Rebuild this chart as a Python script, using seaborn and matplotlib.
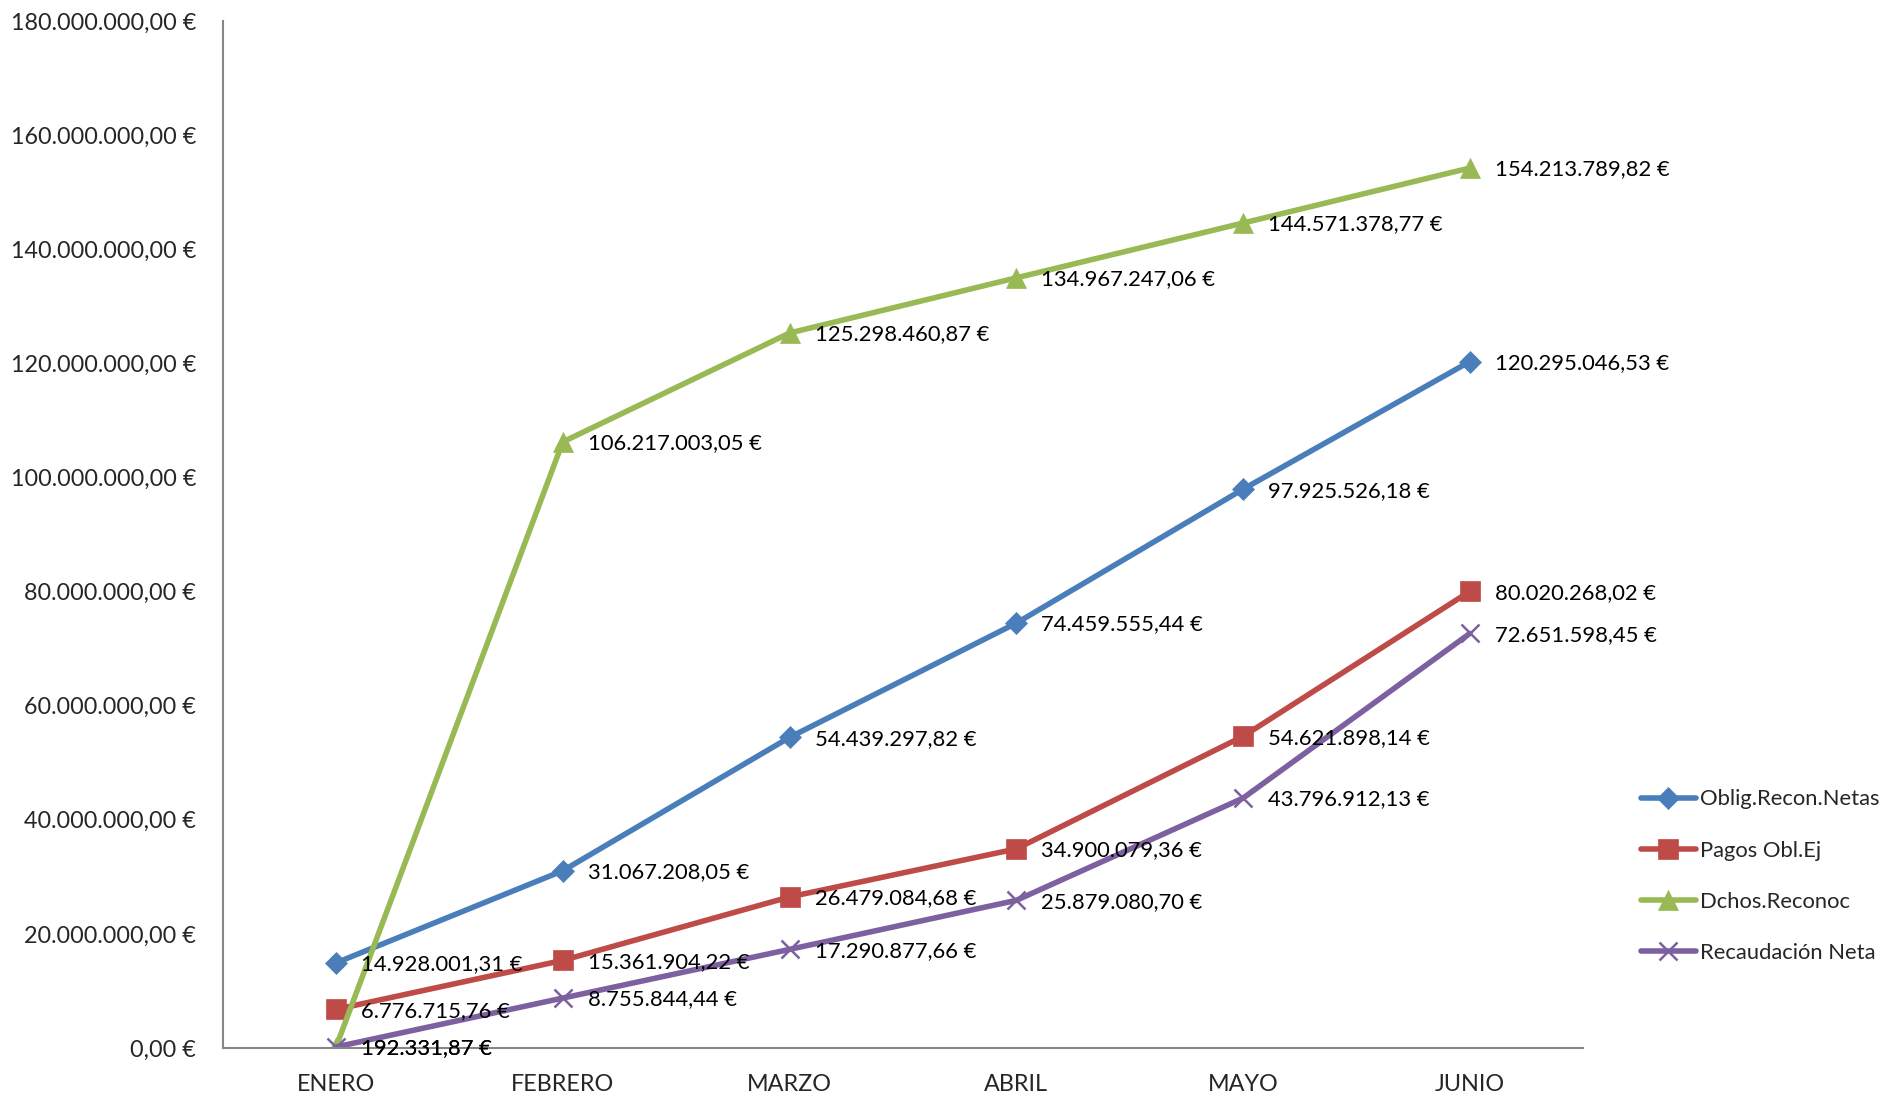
import matplotlib
matplotlib.use("Agg")
import matplotlib.pyplot as plt
import seaborn as sns
import pandas as pd
from matplotlib.lines import Line2D

months = ["ENERO", "FEBRERO", "MARZO", "ABRIL", "MAYO", "JUNIO"]
series_names = ["Oblig.Recon.Netas", "Pagos Obl.Ej", "Dchos.Reconoc", "Recaudación Neta"]
oblig = [14928001.31, 31067208.05, 54439297.82, 74459555.44, 97925526.18, 120295046.53]
pagos = [6776715.76, 15361904.22, 26479084.68, 34900079.36, 54621898.14, 80020268.02]
dchos = [192331.87, 106217003.05, 125298460.87, 134967247.06, 144571378.77, 154213789.82]
recaud = [192331.87, 8755844.44, 17290877.66, 25879080.70, 43796912.13, 72651598.45]
yticks = [0, 20e6, 40e6, 60e6, 80e6, 100e6, 120e6, 140e6, 160e6, 180e6]

colors = ["#4A7EBB", "#BE4B48", "#98B954", "#7D60A0"]
markers = ["D", "s", "^", "x"]
msizes = [11.5, 14, 14, 13]

def eur(v):
    s = f"{v:,.2f}"
    s = s.replace(",", "X").replace(".", ",").replace("X", ".")
    return s + " €"

sns.set_theme(style="white")
plt.rcParams['font.family'] = ['Lato', 'DejaVu Sans']

fig = plt.figure(figsize=(18.87, 10.98), dpi=100)
ax = fig.add_axes([0.118, 0.0455, 0.721, 0.9355])

all_vals = [oblig, pagos, dchos, recaud]
handles = []
for name, vals, c, m, ms in zip(series_names, all_vals, colors, markers, msizes):
    df = pd.DataFrame({"x": range(len(months)), "y": vals})
    mew = 1.8 if m == "x" else 0.5
    sns.lineplot(data=df, x="x", y="y", ax=ax, color=c, linewidth=4.0,
                 marker=m, markersize=ms, markeredgecolor=c,
                 markeredgewidth=mew, sort=False)
    for i, v in enumerate(vals):
        ax.annotate(eur(v), (i, v), xytext=(18, -1), textcoords="offset points",
                    ha="left", va="center", fontsize=15.8, color="black")
    handles.append(Line2D([0], [0], color=c, linewidth=4.0, marker=m, markersize=ms,
                          markeredgecolor=c, markeredgewidth=mew))

ax.set_xlim(-0.5, len(months) - 0.5)
ax.set_ylim(0, 180e6)
ax.set_xticks(range(len(months)))
ax.set_xticklabels(months, fontsize=16.8)
ax.set_yticks(yticks)
ax.set_yticklabels([eur(v) for v in yticks], fontsize=16.8)
ax.set_xlabel("")
ax.set_ylabel("")
ax.tick_params(axis="both", length=0)
ax.tick_params(axis="y", pad=19)
ax.tick_params(axis="x", pad=19)
for s in ["top", "right"]:
    ax.spines[s].set_visible(False)
for s in ["left", "bottom"]:
    ax.spines[s].set_color("#868686")
    ax.spines[s].set_linewidth(1.5)
ax.grid(False)

leg = fig.legend(handles, series_names, loc="upper left", bbox_to_anchor=(0.865, 0.289),
                 frameon=False, fontsize=15.8, handlelength=2.5, labelspacing=1.42,
                 handletextpad=0.2, borderaxespad=0)

fig.savefig("out.png", dpi=100)
